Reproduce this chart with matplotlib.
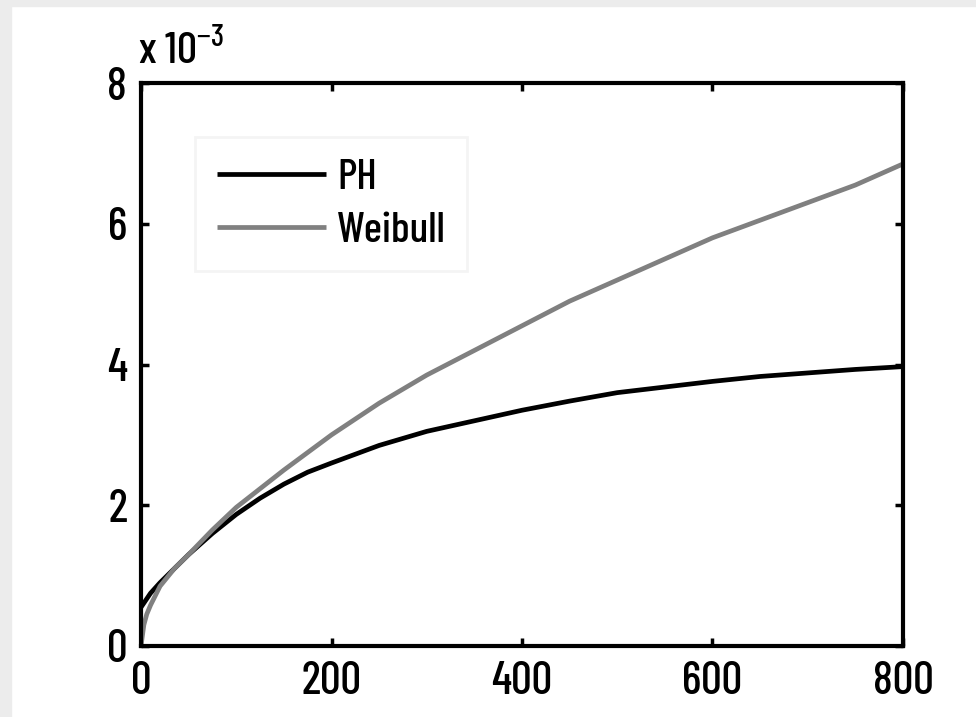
import matplotlib
matplotlib.use("Agg")
import matplotlib.pyplot as plt
import matplotlib.patches as mpatches

fam = "Barlow Condensed"
wt = 500
plt.rcParams['mathtext.fontset'] = 'custom'
plt.rcParams['mathtext.rm'] = fam + ":medium"
plt.rcParams['mathtext.it'] = fam + ":medium"
plt.rcParams['mathtext.bf'] = fam + ":medium"
plt.rcParams['axes.unicode_minus'] = False

ph_x = [0, 5, 10, 20, 35, 50, 75, 100, 125, 150, 175, 200, 250, 300, 350, 400, 450, 500, 550, 600, 650, 700, 750, 800]
ph_y = [0.55, 0.65, 0.75, 0.9, 1.1, 1.3, 1.6, 1.87, 2.1, 2.3, 2.47, 2.6, 2.85, 3.05, 3.2, 3.35, 3.48, 3.6, 3.68, 3.76, 3.83, 3.88, 3.93, 3.97]

wb_x = [0, 3, 6, 10, 20, 35, 50, 75, 100, 150, 200, 250, 300, 350, 400, 450, 500, 550, 600, 650, 700, 750, 800]
wb_y = [0.0, 0.3, 0.45, 0.58, 0.85, 1.1, 1.3, 1.65, 1.97, 2.5, 3.0, 3.45, 3.85, 4.2, 4.55, 4.9, 5.2, 5.5, 5.8, 6.05, 6.3, 6.55, 6.85]

xticks = [0, 200, 400, 600, 800]
yticks = [0, 2, 4, 6, 8]

fig = plt.figure(figsize=(9.76, 7.17), dpi=100)
fig.patches.append(mpatches.Rectangle((0, 0), 11/976, 1, transform=fig.transFigure, color="#ececec", zorder=0))
fig.patches.append(mpatches.Rectangle((0, 1-6/717), 1, 6/717, transform=fig.transFigure, color="#ececec", zorder=0))

ax = fig.add_axes([141/976, 1-646/717, (903-141)/976, (646-83)/717])
ax.plot(ph_x, ph_y, color="black", lw=3.4, label="PH", solid_capstyle="butt")
ax.plot(wb_x, wb_y, color="#808080", lw=3.4, label="Weibull", solid_capstyle="butt")
ax.set_xlim(0, 800)
ax.set_ylim(0, 8)
ax.set_xticks(xticks)
ax.set_yticks(yticks)
ax.set_xticklabels([str(v) for v in xticks], fontfamily=fam, fontweight=wt, fontsize=33)
ax.set_yticklabels([str(v) for v in yticks], fontfamily=fam, fontweight=wt, fontsize=33)
ax.tick_params(direction="in", length=6, width=2.5, top=True, right=True)
ax.tick_params(axis="x", pad=11)
ax.tick_params(axis="y", pad=10)
for s in ax.spines.values():
    s.set_linewidth(3.0)

ax.text(-0.004, 1.02, r"x 10$^{-3}$", transform=ax.transAxes, fontfamily=fam, fontweight=wt, fontsize=32,
        ha="left", va="bottom")

leg = ax.legend(loc="upper left", bbox_to_anchor=((195-141)/762, (646-137)/563), borderaxespad=0,
                prop={"family": fam, "size": 31, "weight": wt},
                frameon=True, fancybox=False, edgecolor="#f2f2f2", handlelength=2.55, handletextpad=0.25,
                labelspacing=0.35, borderpad=0.5)
leg.get_frame().set_linewidth(2)

fig.savefig("out.png", dpi=100)
